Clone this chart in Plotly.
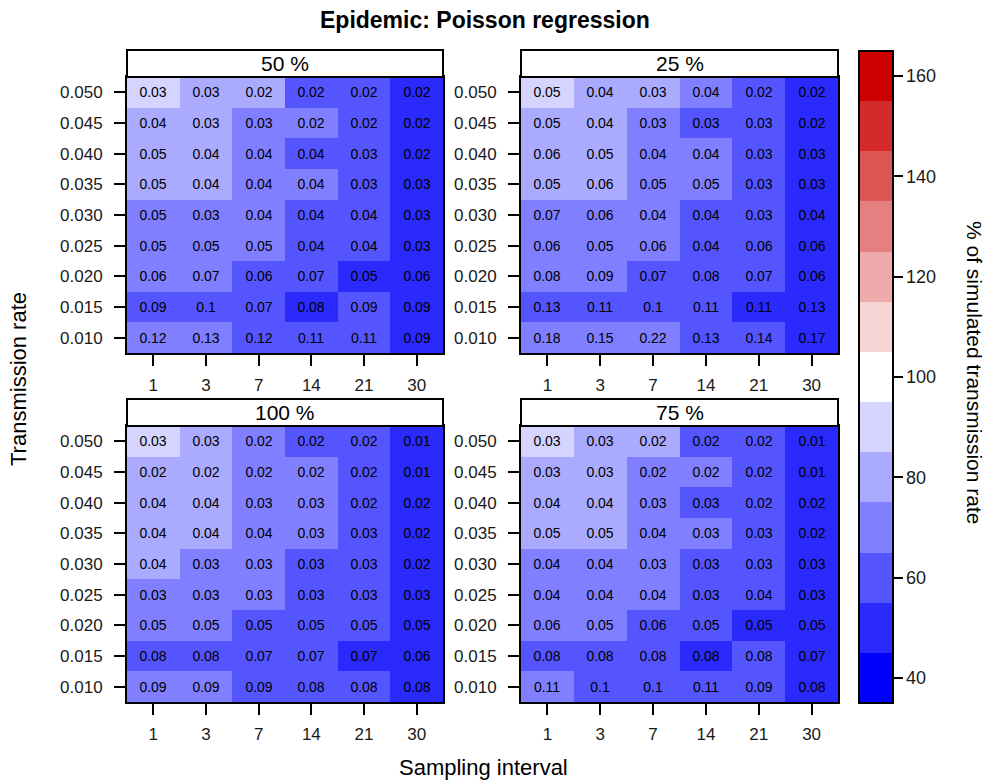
import plotly.graph_objects as go

# Axis categories
intervals = ["1", "3", "7", "14", "21", "30"]
rates_top_down = ["0.050", "0.045", "0.040", "0.035", "0.030", "0.025", "0.020", "0.015", "0.010"]

# Panel labels (sampling proportion), laid out left-to-right, top-to-bottom
panel_labels = ["50 %", "25 %", "100 %", "75 %"]

# % of simulated transmission rate (rows from 0.050 down to 0.010)
pct_50 = [
    [90, 80, 80, 60, 60, 50],
    [80, 80, 70, 70, 60, 50],
    [80, 80, 70, 60, 60, 50],
    [80, 80, 70, 70, 60, 50],
    [70, 70, 70, 60, 60, 50],
    [70, 70, 70, 60, 60, 50],
    [70, 70, 60, 60, 50, 50],
    [60, 60, 60, 50, 60, 50],
    [70, 70, 60, 60, 60, 50],
]
pct_25 = [
    [90, 80, 80, 70, 60, 50],
    [80, 80, 70, 60, 60, 50],
    [80, 80, 70, 70, 60, 50],
    [80, 80, 70, 70, 60, 50],
    [70, 70, 70, 60, 60, 50],
    [70, 70, 70, 60, 60, 50],
    [70, 70, 60, 60, 60, 50],
    [60, 60, 60, 60, 50, 50],
    [70, 70, 70, 60, 60, 50],
]
pct_100 = [
    [90, 80, 70, 60, 60, 50],
    [80, 80, 70, 70, 60, 50],
    [80, 80, 70, 70, 60, 50],
    [80, 80, 70, 70, 60, 50],
    [80, 70, 70, 60, 60, 50],
    [70, 70, 70, 60, 60, 50],
    [70, 70, 60, 60, 60, 50],
    [60, 60, 60, 60, 50, 50],
    [70, 70, 60, 60, 60, 50],
]
pct_75 = [
    [90, 80, 80, 60, 60, 50],
    [80, 80, 70, 70, 60, 50],
    [80, 80, 70, 60, 60, 50],
    [80, 80, 70, 70, 60, 50],
    [70, 70, 70, 60, 60, 50],
    [70, 70, 70, 60, 60, 50],
    [70, 70, 60, 60, 50, 50],
    [60, 60, 60, 50, 60, 50],
    [70, 60, 60, 60, 60, 50],
]

# Cell annotations (rows from 0.050 down to 0.010)
sd_50 = [
    [0.03, 0.03, 0.02, 0.02, 0.02, 0.02],
    [0.04, 0.03, 0.03, 0.02, 0.02, 0.02],
    [0.05, 0.04, 0.04, 0.04, 0.03, 0.02],
    [0.05, 0.04, 0.04, 0.04, 0.03, 0.03],
    [0.05, 0.03, 0.04, 0.04, 0.04, 0.03],
    [0.05, 0.05, 0.05, 0.04, 0.04, 0.03],
    [0.06, 0.07, 0.06, 0.07, 0.05, 0.06],
    [0.09, 0.1, 0.07, 0.08, 0.09, 0.09],
    [0.12, 0.13, 0.12, 0.11, 0.11, 0.09],
]
sd_25 = [
    [0.05, 0.04, 0.03, 0.04, 0.02, 0.02],
    [0.05, 0.04, 0.03, 0.03, 0.03, 0.02],
    [0.06, 0.05, 0.04, 0.04, 0.03, 0.03],
    [0.05, 0.06, 0.05, 0.05, 0.03, 0.03],
    [0.07, 0.06, 0.04, 0.04, 0.03, 0.04],
    [0.06, 0.05, 0.06, 0.04, 0.06, 0.06],
    [0.08, 0.09, 0.07, 0.08, 0.07, 0.06],
    [0.13, 0.11, 0.1, 0.11, 0.11, 0.13],
    [0.18, 0.15, 0.22, 0.13, 0.14, 0.17],
]
sd_100 = [
    [0.03, 0.03, 0.02, 0.02, 0.02, 0.01],
    [0.02, 0.02, 0.02, 0.02, 0.02, 0.01],
    [0.04, 0.04, 0.03, 0.03, 0.02, 0.02],
    [0.04, 0.04, 0.04, 0.03, 0.03, 0.02],
    [0.04, 0.03, 0.03, 0.03, 0.03, 0.02],
    [0.03, 0.03, 0.03, 0.03, 0.03, 0.03],
    [0.05, 0.05, 0.05, 0.05, 0.05, 0.05],
    [0.08, 0.08, 0.07, 0.07, 0.07, 0.06],
    [0.09, 0.09, 0.09, 0.08, 0.08, 0.08],
]
sd_75 = [
    [0.03, 0.03, 0.02, 0.02, 0.02, 0.01],
    [0.03, 0.03, 0.02, 0.02, 0.02, 0.01],
    [0.04, 0.04, 0.03, 0.03, 0.02, 0.02],
    [0.05, 0.05, 0.04, 0.03, 0.03, 0.02],
    [0.04, 0.04, 0.03, 0.03, 0.03, 0.03],
    [0.04, 0.04, 0.04, 0.03, 0.04, 0.03],
    [0.06, 0.05, 0.06, 0.05, 0.05, 0.05],
    [0.08, 0.08, 0.08, 0.08, 0.08, 0.07],
    [0.11, 0.1, 0.1, 0.11, 0.09, 0.08],
]

# Colour key: 13 bins of width 10 from 35 to 165, blue -> white -> red3
key_breaks = list(range(35, 166, 10))
key_colors = ["#0000FF", "#2A2AFF", "#5555FF", "#7F7FFF", "#AAAAFF", "#D4D4FF", "#FFFFFF",
              "#F7D4D4", "#EEAAAA", "#E68080", "#DE5555", "#D52A2A", "#CD0000"]
key_ticks = [40, 60, 80, 100, 120, 140, 160]

W, H = 989, 782
FONT = "Liberation Sans, Arial, sans-serif"

def px_x(v):
    return v / W

def px_y(v):
    return 1 - v / H

# Panel geometry (pixel positions on the page)
col_x = [(127, 443), (521, 838)]
row_y = [(77, 353), (426, 702)]
strip_h = 27

n = len(key_colors)
colorscale = []
for i, c in enumerate(key_colors):
    colorscale.append([i / n, c])
    colorscale.append([(i + 1) / n, c])

fig = go.Figure()

panels = [pct_50, pct_25, pct_100, pct_75]
labels = [sd_50, sd_25, sd_100, sd_75]
rates = rates_top_down[::-1]

shapes = []
annotations = []
for k in range(4):
    r, c = divmod(k, 2)
    xa = "x" if k == 0 else f"x{k + 1}"
    ya = "y" if k == 0 else f"y{k + 1}"
    z = panels[k][::-1]
    txt = [[str(v) for v in row] for row in labels[k][::-1]]
    fig.add_trace(go.Heatmap(
        x=intervals, y=rates, z=z, text=txt,
        texttemplate="%{text}",
        textfont=dict(family=FONT, size=14, color="black"),
        coloraxis="coloraxis", xaxis=xa, yaxis=ya,
        hoverinfo="skip",
    ))
    x0, x1 = col_x[c]
    y0, y1 = row_y[r]
    axis_common = dict(
        showline=True, mirror=True, linecolor="black", linewidth=2,
        ticks="outside", ticklen=11, tickwidth=2, tickcolor="black",
        showgrid=False, zeroline=False,
        tickfont=dict(family=FONT, size=17, color="#1a1a1a"),
        type="category",
    )
    fig.layout[("xaxis" if k == 0 else f"xaxis{k + 1}")] = dict(
        axis_common, domain=[px_x(x0), px_x(x1)], anchor=ya,
        categoryorder="array", categoryarray=intervals, ticklabelstandoff=5,
    )
    fig.layout[("yaxis" if k == 0 else f"yaxis{k + 1}")] = dict(
        axis_common, domain=[px_y(y1), px_y(y0)], anchor=xa,
        categoryorder="array", categoryarray=rates, ticklabelstandoff=8,
    )
    # strip above each panel
    shapes.append(dict(
        type="rect", xref="paper", yref="paper",
        x0=px_x(x0), x1=px_x(x1), y0=px_y(y0), y1=px_y(y0 - strip_h),
        line=dict(color="black", width=2), fillcolor="white", layer="above",
    ))
    annotations.append(dict(
        text=panel_labels[k], xref="paper", yref="paper",
        x=px_x((x0 + x1) / 2), y=px_y(y0 - strip_h / 2),
        xanchor="center", yanchor="middle", showarrow=False,
        font=dict(family=FONT, size=21, color="black"),
    ))

# Titles
annotations.append(dict(
    text="<b>Epidemic: Poisson regression</b>", xref="paper", yref="paper",
    x=px_x(485), y=px_y(20), xanchor="center", yanchor="middle", showarrow=False,
    font=dict(family=FONT, size=23, color="black"),
))
annotations.append(dict(
    text="Sampling interval", xref="paper", yref="paper",
    x=px_x(483), y=px_y(767), xanchor="center", yanchor="middle", showarrow=False,
    font=dict(family=FONT, size=22, color="black"),
))
annotations.append(dict(
    text="Transmission rate", xref="paper", yref="paper",
    x=px_x(19), y=px_y(379), xanchor="center", yanchor="middle", showarrow=False,
    textangle=-90, font=dict(family=FONT, size=22, color="black"),
))
annotations.append(dict(
    text="% of simulated transmission rate", xref="paper", yref="paper",
    x=px_x(975), y=px_y(372), xanchor="center", yanchor="middle", showarrow=False,
    textangle=90, font=dict(family=FONT, size=21, color="black"),
))

fig.update_layout(
    width=W, height=H,
    margin=dict(l=0, r=0, t=0, b=0),
    paper_bgcolor="white", plot_bgcolor="white",
    coloraxis=dict(
        colorscale=colorscale, cmin=key_breaks[0], cmax=key_breaks[-1],
        colorbar=dict(
            x=px_x(859), xanchor="left", xref="paper",
            y=px_y(377), yanchor="middle",
            lenmode="pixels", len=652,
            thicknessmode="pixels", thickness=34,
            outlinewidth=2, outlinecolor="black",
            tickvals=key_ticks, ticks="outside", ticklen=9, tickwidth=2,
            tickcolor="black",
            tickfont=dict(family=FONT, size=18, color="#1a1a1a"),
            xpad=0, ypad=0,
        ),
    ),
    shapes=shapes,
    annotations=annotations,
)

fig.write_html("out.html")
